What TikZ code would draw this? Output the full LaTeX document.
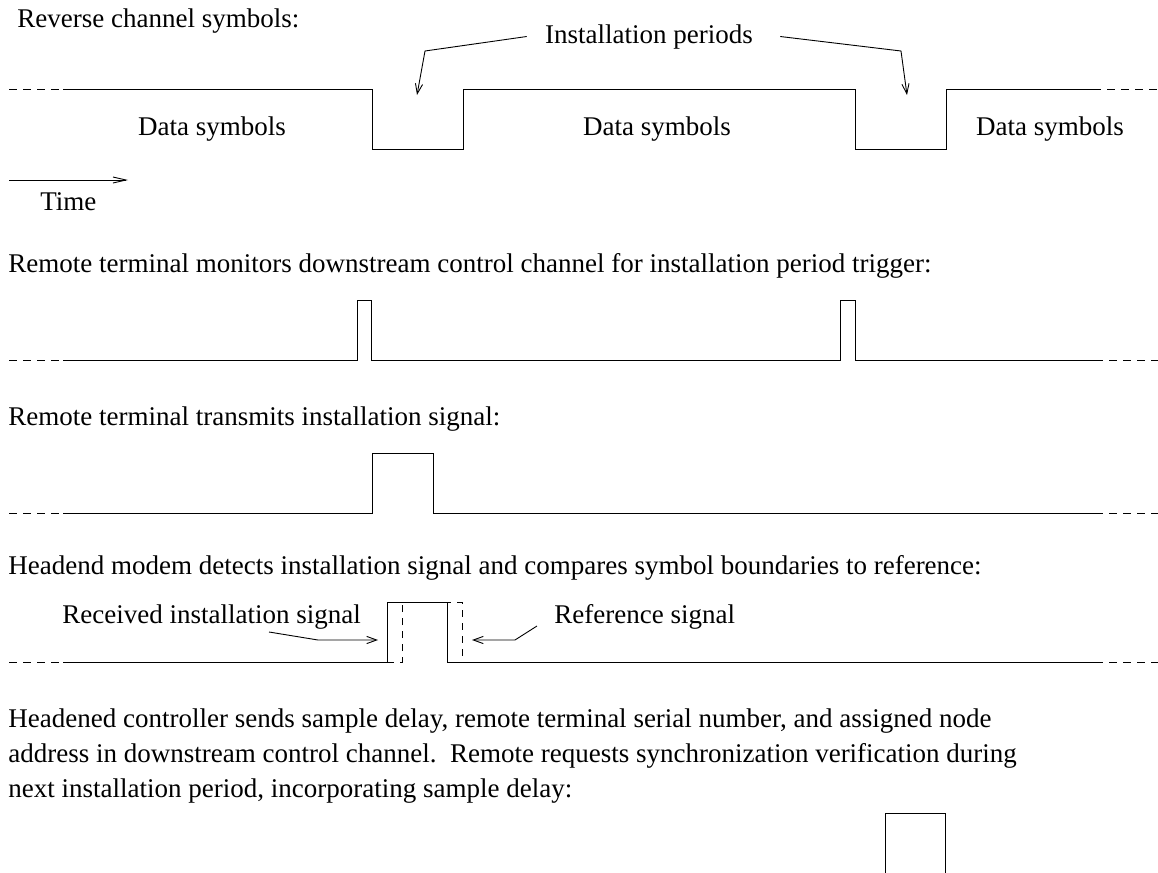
\documentclass[tikz,border=0pt]{standalone}
\usepackage{fontspec}
\setmainfont{Liberation Serif}
\usetikzlibrary{arrows.meta,positioning,calc}
\tikzset{
  wave/.style={line width=.5pt, line join=miter},
  tail/.style={line width=.5pt, dash pattern=on 4pt off 3pt},
  refwave/.style={line width=.5pt, dash pattern=on 3.5pt off 3pt},
  pointer/.style={-{Straight Barb[length=5pt,width=3.6pt]}, line width=.45pt},
  timearrow/.style={-{Straight Barb[length=6.5pt,width=3pt]}, line width=.45pt},
  caption/.style={anchor=base west, inner sep=0pt, font=\fontsize{13.5}{17}\selectfont},
  tag/.style={anchor=base, inner sep=0pt, font=\fontsize{13.5}{17}\selectfont}
}
\begin{document}
\begin{tikzpicture}[x=.5pt,y=-.5pt]
  \useasboundingbox (0,0) rectangle (1158,873);

  % reverse channel symbols
  \node[caption] (revcap) at (17,27) {Reverse channel symbols:};
  \node[tag] (periods) at (649,43) {Installation periods};
  \node[tag] (data1) at (212,135) {Data symbols};
  \node[tag] (data2) at (657,135) {Data symbols};
  \node[tag] (data3) at (1050,135) {Data symbols};
  \draw[tail] (9,89) -- (63,89);
  \draw[wave] (63,89) -| (372,149) -| (463,89) -| (855,149) -| (946,89) -- (1093,89);
  \draw[tail] (1093,89) -- (1158,89);
  \coordinate (gap1) at (417,95);
  \coordinate (gap2) at (907,95);
  \draw[pointer] ($(periods.west)+(-18,0)$) -- (425,51) -- (gap1);
  \draw[pointer] ($(periods.east)+(27,0)$) -- (901,51) -- (gap2);
  \coordinate (t0) at (9,180);
  \coordinate (t1) at (128,180);
  \draw[timearrow] (t0) -- (t1);
  \node[caption] (time) at (40,210) {Time};

  % trigger in downstream control channel
  \node[caption] (trigcap) at (8,272) {Remote terminal monitors downstream control channel for installation period trigger:};
  \draw[tail] (9,360) -- (63,360);
  \draw[wave] (63,360) -| (357,300) -| (371.5,360) -| (840,300) -| (855,360) -- (1095,360);
  \draw[tail] (1095,360) -- (1158,360);

  % installation signal
  \node[caption] (txcap) at (8,425) {Remote terminal transmits installation signal:};
  \draw[tail] (9,513) -- (63,513);
  \draw[wave] (63,513) -| (372,453) -| (433,513) -- (1095,513);
  \draw[tail] (1095,513) -- (1158,513);

  % headend comparison
  \node[caption] (rxcap) at (8,574) {Headend modem detects installation signal and compares symbol boundaries to reference:};
  \draw[tail] (9,662) -- (63,662);
  \draw[wave] (63,662) -| (387,602) -| (447,662) -- (1095,662);
  \draw[tail] (1095,662) -- (1158,662);
  \draw[refwave] (387,662) -| (402,602) -| (462,662);
  \node[caption] (rxsig) at (62,623) {Received installation signal};
  \node[caption] (refsig) at (554,623) {Reference signal};
  \coordinate (rxedge) at (378,640);
  \coordinate (refedge) at (472,640);
  \draw[pointer] (269,632) -- (318,640) -- (rxedge);
  \draw[pointer] (537,626) -- (515,640) -- (refedge);

  % synchronization verification
  \node[caption] (ctl1) at (8,727) {Headened controller sends sample delay, remote terminal serial number, and assigned node};
  \node[caption] (ctl2) at (8,762) {address in downstream control channel.\ \ Remote requests synchronization verification during};
  \node[caption] (ctl3) at (8,797) {next installation period, incorporating sample delay:};
  \draw[wave] (885,873) |- (945,813) -- (945,873);
\end{tikzpicture}
\end{document}
